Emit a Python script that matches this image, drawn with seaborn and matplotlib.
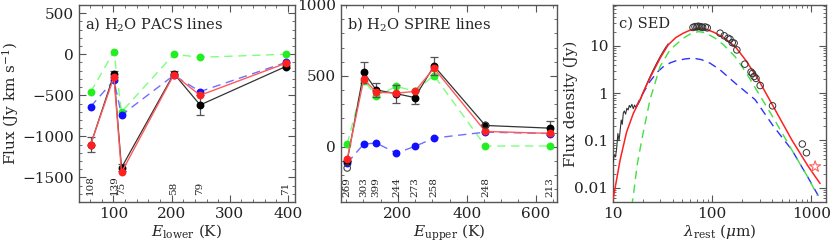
import numpy as np
import pandas as pd
import matplotlib
matplotlib.use("Agg")
import matplotlib.pyplot as plt
import seaborn as sns
from matplotlib.ticker import MultipleLocator, LogLocator, NullFormatter, FuncFormatter

# ---------------- data ----------------
# panel a: PACS lines
pacs_E = [61, 101, 114, 204, 249, 396]
pacs_lab = ["108", "139", "75", "58", "79", "71"]
pacs_obs = [-1100, -244, -1382, -236, -618, -150]
pacs_err = [90, 35, 40, 30, 125, 20]
pacs_red = [-1101, -277, -1439, -248, -500, -110]
pacs_blue = [-638, -317, -740, -256, -455, -100]
pacs_green = [-460, 33, -703, 0, -37, 0]

# panel b: SPIRE lines
spire_E = [53, 101, 137, 196, 249, 305, 454, 642]
spire_lab = ["269", "303", "399", "244", "273", "258", "248", "213"]
spire_obs = [-100, 526, 401, 374, 347, 570, 150, 131]
spire_err = [0, 75, 47, 62, 45, 62, 0, 47]
spire_red = [-87, 477, 385, 378, 390, 554, 108, 94]
spire_blue = [-115, 19, 26, -45, 2, 61, 103, 93]
spire_green = [19, 467, 361, 425, 392, 502, 5, 5]
limit_E = [53, 454]
limit_val = [-150, 150]

# panel c: SED
spec_x = [10.0, 10.3, 10.6, 10.9, 11.2, 11.5, 11.8, 12.1, 12.4, 12.7, 13.0, 13.4,
          13.8, 14.2, 14.6, 15.0, 15.5, 16.0, 16.5, 17.0, 17.5, 18.0, 19.0, 20.0,
          22.0, 24.0, 26.0, 28.0, 30.0, 32.0, 34.0, 36.0]
spec_y = [0.034, 0.05, 0.045, 0.07, 0.14, 0.10, 0.16, 0.27, 0.22, 0.38, 0.42, 0.36,
          0.48, 0.44, 0.55, 0.50, 0.58, 0.47, 0.56, 0.50, 0.55, 0.60, 0.75, 1.0,
          1.6, 2.4, 3.4, 4.6, 6.0, 7.6, 9.3, 11.0]
phot_x = [64, 67, 70, 72, 75, 78, 80, 85, 89, 120, 132, 144, 151, 159, 166, 177,
          213, 246, 254, 264, 276, 304, 405, 808, 889]
phot_y = [24.5, 25.5, 25, 26, 25.5, 25, 24.5, 25, 24, 18.5, 16.3, 14.5, 13.8, 11.7,
          11.4, 8.2, 4.1, 2.8, 2.6, 2.25, 2.05, 1.45, 0.54, 0.084, 0.055]
star_x = [1087]
star_y = [0.028]
model_x = [10, 11.8, 13.7, 16, 18.7, 21.5, 25.5, 30, 36, 43, 51, 60, 72.5, 85, 103,
           130, 170, 220, 292, 413, 631, 930, 1220]
model_y = [0.0056, 0.039, 0.15, 0.37, 0.72, 1.4, 2.9, 5.6, 10.5, 15, 18.5, 21.5,
           23.6, 22.8, 19.5, 15, 9.7, 4.8, 1.92, 0.52, 0.104, 0.028, 0.0123]
cold_x = [15.4, 16, 17.5, 19.5, 23.6, 29.8, 37.5, 51, 60, 72.5, 85, 107, 130, 170,
          220, 292, 413, 631, 930, 1150]
cold_y = [0.004, 0.0066, 0.03, 0.104, 0.73, 3.66, 8.2, 14.5, 17.8, 20, 19, 14.5,
          10.5, 5.9, 2.7, 1.0, 0.3, 0.064, 0.016, 0.0068]
warm_x = [17, 19.5, 23.6, 28, 32, 38, 44, 54, 64, 78, 95, 120, 170, 270, 413, 631,
          930, 1170]
warm_y = [0.5, 0.9, 1.77, 2.8, 3.6, 4.4, 4.9, 5.3, 5.5, 5.1, 4.3, 3.1, 1.63, 0.73,
          0.2, 0.064, 0.016, 0.0068]

# ---------------- style ----------------
sns.set_theme(style="ticks")
plt.rcParams["font.family"] = ["DejaVu Serif"]
plt.rcParams["mathtext.fontset"] = "dejavuserif"
plt.rcParams["axes.edgecolor"] = "#555555"
plt.rcParams["axes.linewidth"] = 1.0

GREEN_L = "#7dff7d"
GREEN_M = "#22ee22"
BLUE_L = "#6f6fff"
BLUE_M = "#1010ff"
RED = "#ff2020"
RED_L = "#ff5a5a"

TICK_FS = 11
LAB_FS = 11
TXT_FS = 10.5

fig = plt.figure(figsize=(8.3, 2.46), dpi=100)
W, H = 830.0, 246.0
axa = fig.add_axes([79 / W, 44 / H, 216 / W, 197 / H])
axb = fig.add_axes([341 / W, 44 / H, 216 / W, 197 / H])
axc = fig.add_axes([613 / W, 44 / H, 213 / W, 197 / H])


def series(ax, x, y, lcolor, mcolor, ls, lw, z):
    sns.lineplot(x=x, y=y, ax=ax, color=lcolor, linestyle=ls, lw=lw,
                 sort=False, estimator=None, zorder=z)
    sns.scatterplot(x=x, y=y, ax=ax, color=mcolor, s=32, linewidth=0,
                    zorder=z + 0.5)


def common(ax):
    ax.tick_params(direction="in", which="both", top=True, right=True,
                   labelsize=TICK_FS, colors="#222222")
    ax.tick_params(which="major", length=5, width=0.8, color="#555555")
    ax.tick_params(which="minor", length=2.5, width=0.6, color="#555555")


# ---- panel a
series(axa, pacs_E, pacs_green, GREEN_L, GREEN_M, (0, (6, 4)), 1.0, 2)
series(axa, pacs_E, pacs_blue, BLUE_L, BLUE_M, (0, (6, 4)), 1.0, 3)
axa.errorbar(pacs_E, pacs_obs, yerr=pacs_err, fmt="none", ecolor="#555555",
             elinewidth=0.9, capsize=3, capthick=0.9, zorder=4)
series(axa, pacs_E, pacs_obs, "#333333", "black", "-", 0.9, 4)
series(axa, pacs_E, pacs_red, RED_L, RED, "-", 1.0, 6)
for e, lab in zip(pacs_E, pacs_lab):
    axa.text(e, -1715, lab, rotation=90, ha="center", va="bottom", fontsize=7.5,
             color="#222222")
axa.set_xlim(41, 412)
axa.set_ylim(-1800, 600)
axa.xaxis.set_major_locator(MultipleLocator(100))
axa.xaxis.set_minor_locator(MultipleLocator(20))
axa.yaxis.set_major_locator(MultipleLocator(500))
axa.yaxis.set_minor_locator(MultipleLocator(100))
axa.yaxis.set_major_formatter(FuncFormatter(lambda v, p: ("\u2212%d" % -v) if v < 0 else "%d" % v))
axa.set_xlabel(r"$E_{\rm lower}$ (K)", fontsize=LAB_FS, labelpad=1)
axa.set_ylabel(r"Flux (Jy km s$^{-1}$)", fontsize=LAB_FS)
axa.yaxis.set_label_coords(-0.27, 0.5)
axa.text(0.03, 0.905, r"a) H$_2$O PACS lines", transform=axa.transAxes,
         fontsize=TXT_FS, va="center", ha="left")
common(axa)

# ---- panel b
series(axb, spire_E, spire_green, GREEN_L, GREEN_M, (0, (6, 4)), 1.0, 2)
series(axb, spire_E, spire_blue, BLUE_L, BLUE_M, (0, (6, 4)), 1.0, 3)
axb.errorbar(spire_E, spire_obs, yerr=spire_err, fmt="none", ecolor="#555555",
             elinewidth=0.9, capsize=3, capthick=0.9, zorder=4)
series(axb, spire_E, spire_obs, "#333333", "black", "-", 0.9, 4)
series(axb, spire_E, spire_red, RED_L, RED, "-", 1.0, 6)
sns.scatterplot(x=limit_E, y=limit_val, ax=axb, marker="o", s=22,
                facecolor="none", edgecolor="#444444", linewidth=0.8, zorder=7)
for e, lab in zip(spire_E, spire_lab):
    axb.text(e, -355, lab, rotation=90, ha="center", va="bottom", fontsize=7.5,
             color="#222222")
axb.set_xlim(35, 662)
axb.set_ylim(-390, 1000)
axb.xaxis.set_major_locator(MultipleLocator(200))
axb.xaxis.set_minor_locator(MultipleLocator(50))
axb.yaxis.set_major_locator(MultipleLocator(500))
axb.yaxis.set_minor_locator(MultipleLocator(100))
axb.set_xlabel(r"$E_{\rm upper}$ (K)", fontsize=LAB_FS, labelpad=1)
axb.set_ylabel("")
axb.text(0.03, 0.905, r"b) H$_2$O SPIRE lines", transform=axb.transAxes,
         fontsize=TXT_FS, va="center", ha="left")
common(axb)

# ---- panel c
axc.set_xscale("log")
axc.set_yscale("log")
sns.lineplot(x=spec_x, y=spec_y, ax=axc, color="#333333", lw=0.8, sort=False,
             estimator=None, zorder=3)
sns.lineplot(x=warm_x, y=warm_y, ax=axc, color="#3030ff", lw=1.0,
             linestyle=(0, (6, 4)), sort=False, estimator=None, zorder=2)
sns.lineplot(x=cold_x, y=cold_y, ax=axc, color="#40e040", lw=1.0,
             linestyle=(0, (6, 4)), sort=False, estimator=None, zorder=2)
sns.lineplot(x=model_x, y=model_y, ax=axc, color=RED, lw=1.1, sort=False,
             estimator=None, zorder=4)
sns.scatterplot(x=phot_x, y=phot_y, ax=axc, marker="o", s=22, facecolor="none",
                edgecolor="#333333", linewidth=0.7, zorder=5)
sns.scatterplot(x=star_x, y=star_y, ax=axc, marker="*", s=70, facecolor="none",
                edgecolor="#ff6060", linewidth=0.8, zorder=5)
axc.set_xlim(10, 1400)
axc.set_ylim(0.005, 73)
axc.xaxis.set_major_locator(LogLocator(base=10, numticks=10))
axc.xaxis.set_minor_locator(LogLocator(base=10, subs=np.arange(2, 10), numticks=20))
axc.yaxis.set_major_locator(LogLocator(base=10, numticks=10))
axc.yaxis.set_minor_locator(LogLocator(base=10, subs=np.arange(2, 10), numticks=20))
fmt = FuncFormatter(lambda v, p: "%g" % v)
axc.xaxis.set_major_formatter(fmt)
axc.yaxis.set_major_formatter(fmt)
axc.xaxis.set_minor_formatter(NullFormatter())
axc.yaxis.set_minor_formatter(NullFormatter())
axc.set_xlabel(r"$\lambda_{\rm rest}$ ($\mu$m)", fontsize=LAB_FS, labelpad=1)
axc.set_ylabel("Flux density (Jy)", fontsize=LAB_FS)
axc.yaxis.set_label_coords(-0.165, 0.5)
axc.text(0.03, 0.905, "c) SED", transform=axc.transAxes, fontsize=TXT_FS,
         va="center", ha="left")
common(axc)

fig.savefig("out.png", dpi=100)
